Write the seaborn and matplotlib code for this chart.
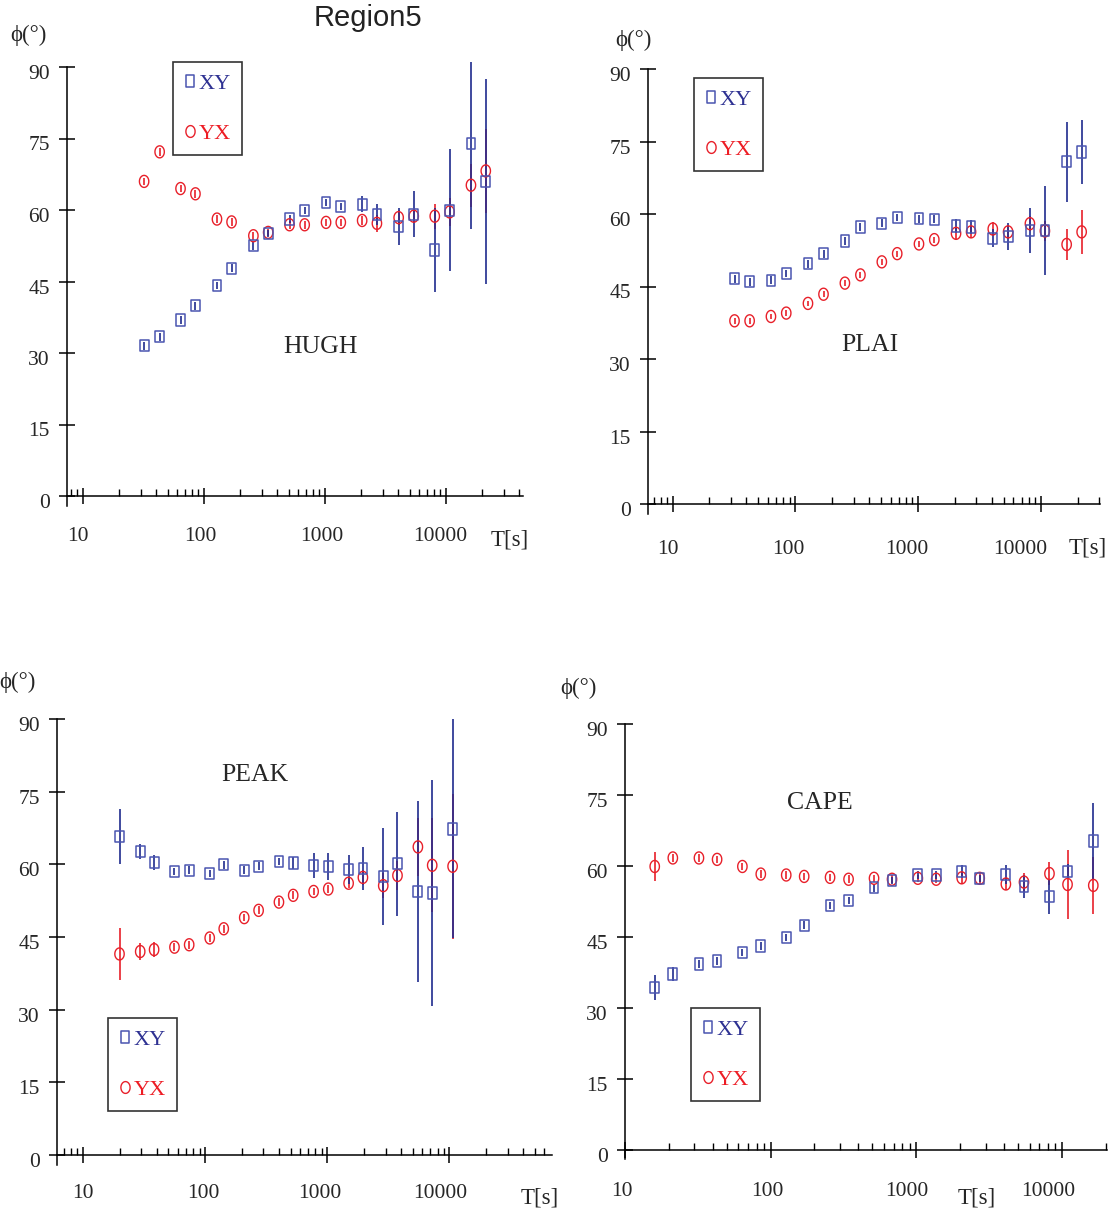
import numpy as np
import pandas as pd
import matplotlib
matplotlib.use("Agg")
import matplotlib.pyplot as plt
import matplotlib.ticker as mticker
from matplotlib.lines import Line2D
from matplotlib.path import Path
from matplotlib.markers import MarkerStyle
from matplotlib.transforms import ScaledTranslation
import seaborn as sns

# ---------------- data ----------------
hugh_T = [32, 43, 64, 85, 128, 169, 256, 339, 509, 679, 1020, 1350, 2027, 2685, 4060, 5410, 8070, 10700, 16070, 21300]
hugh_xy = [31.5, 33.4, 36.9, 39.9, 44.2, 47.8, 52.5, 55.1, 58.1, 59.9, 61.6, 60.7, 61.2, 59.1, 56.5, 59.1, 51.6, 59.9, 73.9, 66.0]
hugh_xy_err = [0.8, 0.8, 0.8, 0.8, 0.8, 0.8, 0.8, 0.8, 0.8, 0.8, 0.8, 0.8, 1.7, 2.2, 3.9, 4.8, 8.8, 12.8, 17.9, 21.5]
hugh_yx = [66.0, 72.2, 64.5, 63.4, 58.1, 57.5, 54.6, 55.3, 56.9, 56.9, 57.4, 57.4, 57.8, 57.2, 58.4, 58.7, 58.7, 59.6, 65.2, 68.2]
hugh_yx_err = [0.8, 0.8, 0.8, 0.8, 0.8, 0.8, 0.8, 0.8, 0.8, 0.8, 0.8, 0.8, 1.0, 1.8, 1.5, 1.5, 2.6, 3.0, 4.5, 8.8]

plai_T = [32, 42.5, 63.4, 84.5, 127, 170, 254, 340, 508, 678, 1020, 1360, 2045, 2711, 4074, 5433, 8180, 10840, 16300, 21600]
plai_xy = [46.6, 46.0, 46.3, 47.7, 49.7, 51.8, 54.4, 57.3, 58.1, 59.3, 59.0, 58.9, 57.5, 57.3, 55.0, 55.3, 56.6, 56.6, 70.8, 72.8]
plai_xy_err = [0.8, 0.8, 0.8, 0.8, 0.8, 0.8, 0.8, 0.8, 0.8, 0.8, 0.8, 0.8, 1.5, 1.5, 1.8, 2.8, 4.6, 9.2, 8.3, 6.6]
plai_yx = [37.9, 37.9, 38.8, 39.5, 41.5, 43.4, 45.7, 47.4, 50.1, 51.8, 53.8, 54.7, 56.0, 56.3, 56.9, 56.3, 58.0, 56.5, 53.7, 56.3]
plai_yx_err = [0.6, 0.6, 0.6, 0.6, 0.6, 0.6, 0.6, 0.6, 0.6, 0.6, 0.6, 0.6, 1.2, 1.2, 1.5, 1.5, 1.5, 2.0, 3.2, 4.6]

peak_T = [19.9, 29.4, 38.2, 56.1, 74, 109, 142, 209, 274, 402, 526, 773, 1019, 1495, 1958, 2873, 3758, 5520, 7230, 10620]
peak_xy = [65.8, 62.7, 60.4, 58.5, 58.8, 58.1, 59.9, 58.8, 59.6, 60.6, 60.3, 59.7, 59.6, 59.0, 59.1, 57.5, 60.1, 54.4, 54.1, 67.3]
peak_xy_err = [5.7, 1.6, 1.5, 0.8, 0.8, 0.8, 0.8, 0.8, 0.8, 0.8, 1.2, 2.6, 2.8, 3.0, 4.5, 10.1, 10.7, 18.7, 23.3, 22.6]
peak_yx = [41.5, 42.0, 42.4, 42.9, 43.4, 44.8, 46.7, 49.0, 50.5, 52.2, 53.6, 54.4, 54.9, 56.1, 57.3, 55.6, 57.7, 63.6, 59.8, 59.6]
peak_yx_err = [5.4, 1.8, 1.5, 0.8, 0.8, 0.8, 0.8, 0.8, 0.8, 0.8, 0.8, 0.8, 0.8, 1.0, 1.5, 2.6, 3.0, 6.0, 9.7, 15.0]

cape_T = [16.0, 21.3, 32.2, 42.9, 64.0, 85.6, 128, 170, 256, 343, 513, 682, 1026, 1371, 2051, 2729, 4126, 5495, 8222, 10940, 16440]
cape_xy = [34.3, 37.2, 39.3, 39.9, 41.7, 43.1, 44.9, 47.5, 51.7, 52.7, 55.4, 56.9, 58.1, 58.1, 58.8, 57.4, 58.2, 55.7, 53.6, 58.9, 65.3]
cape_xy_err = [2.7, 1.5, 0.8, 0.8, 0.8, 0.8, 0.8, 0.8, 0.8, 0.8, 0.8, 0.8, 0.8, 0.8, 1.4, 0.8, 2.0, 2.5, 3.7, 1.5, 8.0]
cape_yx = [59.9, 61.7, 61.7, 61.4, 59.9, 58.3, 58.1, 57.8, 57.6, 57.2, 57.4, 57.2, 57.4, 57.2, 57.5, 57.4, 56.2, 56.6, 58.4, 56.1, 55.9]
cape_yx_err = [3.1, 0.8, 0.8, 0.8, 0.8, 0.8, 0.8, 0.8, 0.8, 0.8, 0.8, 0.8, 0.8, 0.8, 1.3, 1.2, 1.2, 2.0, 2.5, 7.2, 6.0]

station_names = ["HUGH", "PLAI", "PEAK", "CAPE"]
mode_labels = ["XY", "YX"]
y_ticks = [0, 15, 30, 45, 60, 75, 90]
x_major_ticks = [10, 100, 1000, 10000]
x_major_labels = ["10", "100", "1000", "10000"]
title_text = "Region5"
y_label_text = "\u03d5(\u00b0)"
x_label_text = "T[s]"

# ---------------- style ----------------
sns.set_style("white")
plt.rcParams["font.family"] = ["Liberation Serif", "DejaVu Serif"]
plt.rcParams["axes.linewidth"] = 1.1

W, H = 1109, 1214
fig = plt.figure(figsize=(W / 100, H / 100), dpi=100)

BLUE_BAR = "#1f2b8e"
BLUE_MK = "#4a55b0"
RED = "#e8202a"
BLUE_TXT = "#2e3192"
RED_TXT = "#ed1c24"

# slightly tall marker shapes (the scanned figure is stretched vertically)
sq_path = Path([(-0.78, -1), (0.78, -1), (0.78, 1), (-0.78, 1), (-0.78, -1)],
               [Path.MOVETO, Path.LINETO, Path.LINETO, Path.LINETO, Path.CLOSEPOLY])
_th = np.linspace(0, 2 * np.pi, 49)
el_path = Path(np.column_stack([0.78 * np.cos(_th), np.sin(_th)]))
SQ = MarkerStyle(sq_path)
EL = MarkerStyle(el_path)

panels = [
    dict(name="HUGH", T=hugh_T, xy=hugh_xy, xye=hugh_xy_err, yx=hugh_yx, yxe=hugh_yx_err,
         xl=67, xr=523, lg=(0.868, 4.636), y90=67, y0=496,
         ylab=(28, 35), tlab=(510, 540), name_pos=(320, 347), leg=(173, 62), xpad=16,
         xdx=[-5, -4, -3, -6]),
    dict(name="PLAI", T=plai_T, xy=plai_xy, xye=plai_xy_err, yx=plai_yx, yxe=plai_yx_err,
         xl=648, xr=1100, lg=(0.80, 4.484), y90=69, y0=504,
         ylab=(633, 40), tlab=(1088, 548), name_pos=(870, 345), leg=(694, 78), xpad=20,
         xdx=[-5, -7, -11, -20]),
    dict(name="PEAK", T=peak_T, xy=peak_xy, xye=peak_xy_err, yx=peak_yx, yxe=peak_yx_err,
         xl=57, xr=552, lg=(0.787, 4.84), y90=719, y0=1155,
         ylab=(17, 682), tlab=(540, 1198), name_pos=(255, 775), leg=(108, 1018), xpad=15,
         xdx=[0, -2, -7, -9]),
    dict(name="CAPE", T=cape_T, xy=cape_xy, xye=cape_xy_err, yx=cape_yx, yxe=cape_yx_err,
         xl=625, xr=1107, lg=(1.0, 4.31), y90=724, y0=1150,
         ylab=(578, 688), tlab=(977, 1198), name_pos=(820, 803), leg=(691, 1008), xpad=17,
         xdx=[-3, -3, -9, -14]),
]

YLO, YHI = -2.0, 91.0


def fx(px):
    return px / W


def fy(py):
    return 1 - py / H


for p in panels:
    ppd = (p["y0"] - p["y90"]) / 90.0
    top = p["y90"] - (YHI - 90) * ppd
    bot = p["y0"] + (0 - YLO) * ppd
    ax = fig.add_axes([fx(p["xl"]), fy(bot), (p["xr"] - p["xl"]) / W, (bot - top) / H])
    ax.set_facecolor("none")

    df = pd.DataFrame({
        "T": list(p["T"]) * 2,
        "phi": list(p["xy"]) + list(p["yx"]),
        "err": list(p["xye"]) + list(p["yxe"]),
        "mode": ["XY"] * len(p["T"]) + ["YX"] * len(p["T"]),
    })
    dxy = df[df["mode"] == "XY"]
    dyx = df[df["mode"] == "YX"]

    ax.errorbar(dyx["T"], dyx["phi"], yerr=dyx["err"], fmt="none", ecolor=RED,
                elinewidth=1.2, capsize=0, zorder=2)
    ax.errorbar(dxy["T"], dxy["phi"], yerr=dxy["err"], fmt="none", ecolor=BLUE_BAR,
                elinewidth=1.2, capsize=0, zorder=3)
    sns.scatterplot(x=dyx["T"].values, y=dyx["phi"].values, marker=EL, s=75,
                    facecolors="none", edgecolor=RED, linewidth=1.0, ax=ax, zorder=4)
    sns.scatterplot(x=dxy["T"].values, y=dxy["phi"].values, marker=SQ, s=66,
                    facecolors="none", edgecolor=BLUE_MK, linewidth=1.1, ax=ax, zorder=5)

    ax.set_xscale("log")
    ax.set_xlim(10 ** p["lg"][0], 10 ** p["lg"][1])
    ax.set_ylim(YLO, YHI)
    ax.set_xlabel("")
    ax.set_ylabel("")

    for s in ["top", "right"]:
        ax.spines[s].set_visible(False)
    ax.spines["bottom"].set_position(("data", 0))
    ax.spines["left"].set_bounds(YLO, 90)
    ax.spines["left"].set_color("black")
    ax.spines["bottom"].set_color("black")

    ax.xaxis.set_major_locator(mticker.FixedLocator(x_major_ticks))
    ax.xaxis.set_major_formatter(mticker.FixedFormatter(x_major_labels))
    ax.xaxis.set_minor_locator(mticker.LogLocator(base=10, subs=np.arange(2, 10), numticks=30))
    ax.xaxis.set_minor_formatter(mticker.NullFormatter())
    ax.tick_params(axis="x", which="major", direction="inout", length=12, width=1.1,
                   pad=p["xpad"], labelsize=15.5, bottom=True, color="black")
    ax.tick_params(axis="x", which="minor", direction="in", length=5, width=1.0,
                   bottom=True, color="black")

    ax.yaxis.set_major_locator(mticker.FixedLocator(y_ticks))
    ax.yaxis.set_major_formatter(mticker.FixedFormatter([str(v) for v in y_ticks]))
    ax.tick_params(axis="y", which="major", direction="inout", length=11, width=1.1,
                   pad=7, labelsize=15.5, left=True, color="black")
    ax.grid(False)

    off = ScaledTranslation(0, -5 / 100, fig.dpi_scale_trans)
    for lab in ax.get_yticklabels():
        lab.set_transform(lab.get_transform() + off)
    for lab, dx in zip(ax.get_xticklabels(), p["xdx"]):
        lab.set_transform(lab.get_transform() + ScaledTranslation(dx / 100, 0, fig.dpi_scale_trans))

    fig.text(fx(p["ylab"][0]), fy(p["ylab"][1]), y_label_text, ha="center", va="center",
             fontsize=16.5)
    fig.text(fx(p["tlab"][0]), fy(p["tlab"][1]), x_label_text, ha="center", va="center",
             fontsize=16.5)
    fig.text(fx(p["name_pos"][0]), fy(p["name_pos"][1]), p["name"], ha="center", va="center",
             fontsize=18.5)

    handles = [
        Line2D([], [], marker=SQ, ls="none", mfc="none", mec=BLUE_MK, ms=8, mew=1.1),
        Line2D([], [], marker=EL, ls="none", mfc="none", mec=RED, ms=8.5, mew=1.0),
    ]
    leg = ax.legend(handles, mode_labels, loc="upper left",
                    bbox_to_anchor=(fx(p["leg"][0]), fy(p["leg"][1])),
                    bbox_transform=fig.transFigure, frameon=True, fancybox=False,
                    edgecolor="#333333", framealpha=1, fontsize=16,
                    handlelength=0.5, handletextpad=0.15, borderpad=0.5,
                    labelspacing=1.35, borderaxespad=0,
                    labelcolor=[BLUE_TXT, RED_TXT])
    leg.get_frame().set_linewidth(1.2)

fig.text(fx(368), fy(18), title_text, ha="center", va="center", fontsize=21,
         family=["Liberation Sans", "DejaVu Sans"], color="#222222")

fig.savefig("out.png", dpi=100)
